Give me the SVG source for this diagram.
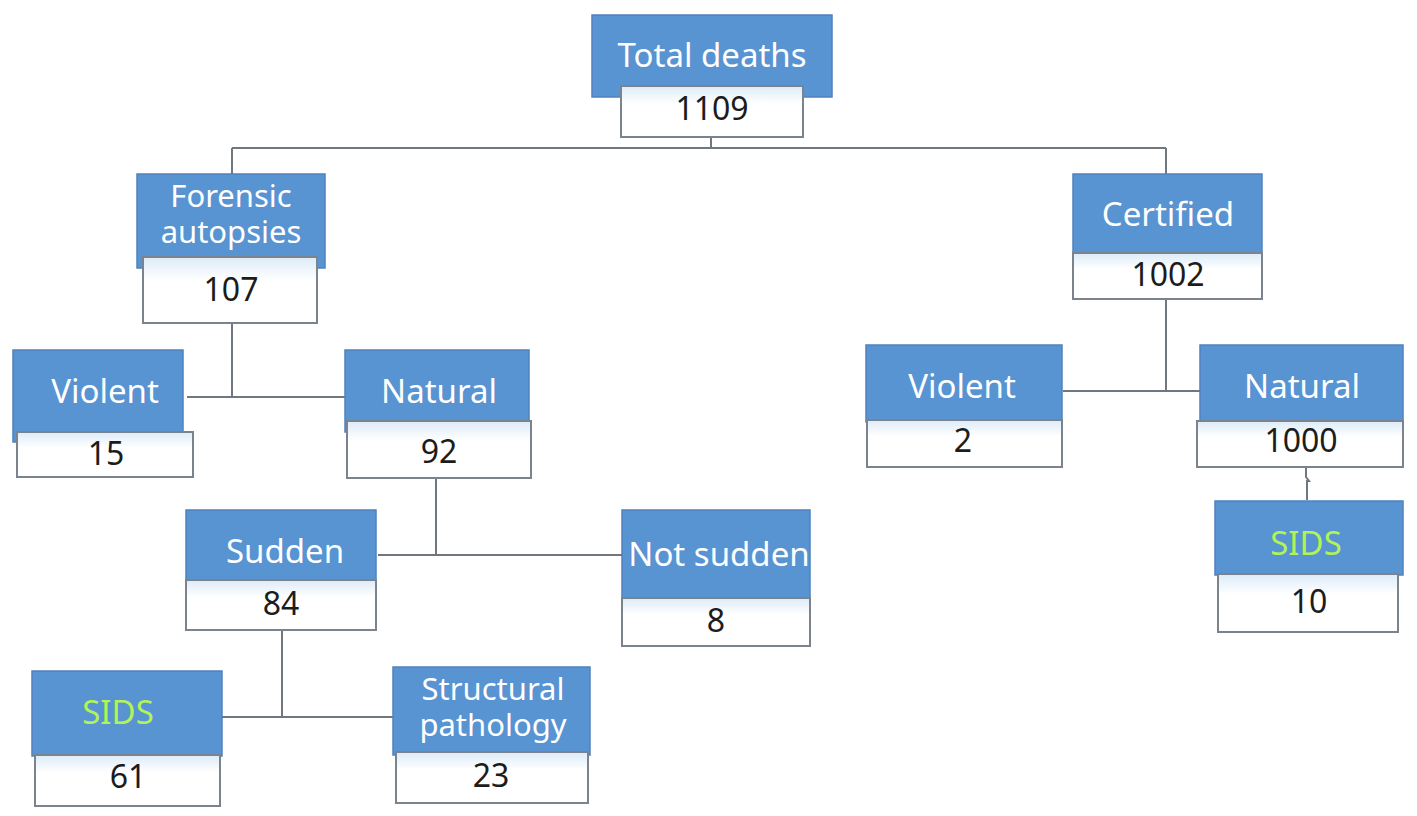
<svg xmlns="http://www.w3.org/2000/svg" width="1417" height="816" viewBox="0 0 1417 816">
<defs>
<linearGradient id="wg" x1="0" y1="0" x2="0" y2="1">
<stop offset="0" stop-color="#dcebf8"/>
<stop offset="0.35" stop-color="#ffffff"/>
<stop offset="1" stop-color="#ffffff"/>
</linearGradient>
</defs>
<style>
.hd{fill:#5893d2;stroke:#4f83bd;stroke-width:1.5}
.vb{fill:url(#wg);stroke:#7b838e;stroke-width:2}
.lb{font-family:"Noto Sans","Open Sans",sans-serif;font-size:33px;fill:#ffffff;text-anchor:middle}
.l2{font-size:31px}
.gr{fill:#b2f25a}
.nm{font-family:"Noto Sans","Open Sans",sans-serif;font-size:32px;fill:#1c1c1c;text-anchor:middle}
.cn{fill:none;stroke:#6f7780;stroke-width:2}
</style>
<rect width="1417" height="816" fill="#ffffff"/>
<g id="connectors">
<path class="cn" d="M711,137 V148 M232,148 H1166 M232,148 V174 M1166,148 V174"/>
<path class="cn" d="M232,323 V397 M187,397 H345"/>
<path class="cn" d="M1166,299 V391 M1063,391 H1200"/>
<path class="cn" d="M436,478 V555 M378,555 H622"/>
<path class="cn" d="M282,630 V717 M222,717 H393"/>
<path class="cn" d="M1306,467 V477 L1309,481 H1307 V500"/>
</g>
<g id="total">
<rect class="hd" x="592" y="15" width="240" height="82"/>
<rect class="vb" x="621" y="86" width="182" height="51"/>
<text class="lb" x="712" y="67">Total deaths</text>
<text class="nm" x="712" y="120">1109</text>
</g>
<g id="forensic">
<rect class="hd" x="137" y="174" width="188" height="94"/>
<rect class="vb" x="143" y="257" width="174" height="66"/>
<text class="lb l2" x="231" y="207">Forensic</text>
<text class="lb l2" x="231" y="243">autopsies</text>
<text class="nm" x="231" y="301">107</text>
</g>
<g id="certified">
<rect class="hd" x="1073" y="174" width="189" height="80"/>
<rect class="vb" x="1073" y="253" width="189" height="46"/>
<text class="lb" x="1168" y="226">Certified</text>
<text class="nm" x="1168" y="286">1002</text>
</g>
<g id="violent-forensic">
<rect class="hd" x="13" y="350" width="170" height="92"/>
<rect class="vb" x="17" y="432" width="176" height="45"/>
<text class="lb" x="105" y="403">Violent</text>
<text class="nm" x="106" y="465">15</text>
</g>
<g id="natural-forensic">
<rect class="hd" x="345" y="350" width="184" height="82"/>
<rect class="vb" x="347" y="421" width="184" height="57"/>
<text class="lb" x="439" y="403">Natural</text>
<text class="nm" x="439" y="463">92</text>
</g>
<g id="violent-certified">
<rect class="hd" x="866" y="345" width="196" height="77"/>
<rect class="vb" x="867" y="420" width="195" height="47"/>
<text class="lb" x="962" y="398">Violent</text>
<text class="nm" x="963" y="452">2</text>
</g>
<g id="natural-certified">
<rect class="hd" x="1200" y="345" width="203" height="77"/>
<rect class="vb" x="1197" y="421" width="206" height="46"/>
<text class="lb" x="1302" y="398">Natural</text>
<text class="nm" x="1301" y="452">1000</text>
</g>
<g id="sids-certified">
<rect class="hd" x="1215" y="501" width="188" height="74"/>
<rect class="vb" x="1218" y="574" width="180" height="58"/>
<text class="lb gr" x="1306" y="555">SIDS</text>
<text class="nm" x="1309" y="613">10</text>
</g>
<g id="sudden">
<rect class="hd" x="186" y="510" width="190" height="72"/>
<rect class="vb" x="186" y="580" width="190" height="50"/>
<text class="lb" x="285" y="563">Sudden</text>
<text class="nm" x="281" y="615">84</text>
</g>
<g id="not-sudden">
<rect class="hd" x="622" y="510" width="188" height="89"/>
<rect class="vb" x="622" y="598" width="188" height="48"/>
<text class="lb" x="719" y="566">Not sudden</text>
<text class="nm" x="716" y="632">8</text>
</g>
<g id="sids-forensic">
<rect class="hd" x="32" y="671" width="190" height="85"/>
<rect class="vb" x="35" y="755" width="185" height="51"/>
<text class="lb gr" x="118" y="724">SIDS</text>
<text class="nm" x="128" y="788">61</text>
</g>
<g id="structural">
<rect class="hd" x="393" y="667" width="197" height="88"/>
<rect class="vb" x="396" y="752" width="192" height="51"/>
<text class="lb l2" x="493" y="700">Structural</text>
<text class="lb l2" x="493" y="736">pathology</text>
<text class="nm" x="491" y="787">23</text>
</g>
</svg>
